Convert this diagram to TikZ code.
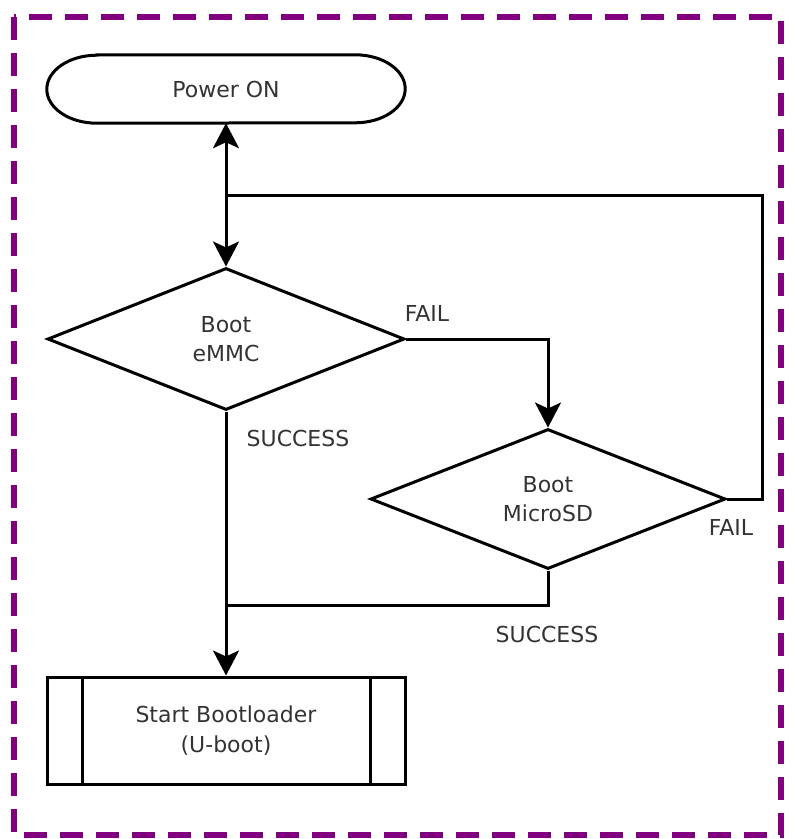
\documentclass[tikz,border=0pt]{standalone}
\usepackage{fontspec}
\setmainfont{DejaVu Sans}
\usetikzlibrary{shapes.geometric,arrows.meta}
\definecolor{frame}{HTML}{800080}
\definecolor{txt}{HTML}{333333}
\begin{document}
\begin{tikzpicture}[x=1pt,y=-1pt,
  every node/.style={font=\fontsize{22}{29.5}\selectfont, text=txt, align=center},
  line/.style={line width=3pt, draw=black},
  tip/.tip={Stealth[length=25pt,width=26pt,inset=6pt]},
  arr/.style={line, -tip},
  dec/.style={diamond, line, minimum width=357pt, minimum height=142pt, aspect=2.5, inner sep=0pt},
  lbl/.style={inner sep=0pt}]
\useasboundingbox (0,0) rectangle (795,839);
\draw[frame, line width=6pt, dash pattern=on 23pt off 13pt] (14,17) rectangle (781,835);
\node[rectangle, minimum width=358pt, minimum height=68pt, inner sep=0pt] (power) at (226,89) {Power ON};
\draw[line] ([xshift=50pt]power.north west) -- ([xshift=-50pt]power.north east)
  arc[start angle=90, end angle=-90, x radius=50pt, y radius=34pt]
  -- ([xshift=50pt]power.south west)
  arc[start angle=270, end angle=90, x radius=50pt, y radius=34pt] -- cycle;
\node[dec] (d1) at (226,339) {Boot\\eMMC};
\node[dec, minimum width=355pt, minimum height=140pt] (d2) at (548,499) {Boot\\MicroSD};
\node[line, rectangle, minimum width=358pt, minimum height=107pt, inner sep=0pt] (boot) at (226,730.5) {Start Bootloader\\(U-boot)};
\draw[line] ([xshift=37pt]boot.north west) -- ([xshift=37pt]boot.south west);
\draw[line] ([xshift=-36pt]boot.north east) -- ([xshift=-36pt]boot.south east);
\coordinate (j1) at (226,195);
\coordinate (r2) at (762,195);
\coordinate (k2) at (548,605);
\draw[line, tip-tip] (power.south) -- (d1.north);
\draw[line] (d2.east) -- (d2.east -| r2) -- (r2) -- (j1);
\draw[arr] (d1.east) -| (d2.north);
\draw[arr] (d1.south) -- (boot.north);
\draw[line] (d2.south) -- (k2) -- (k2 -| d1.south);
\node[lbl] (f1) at (427,313) {FAIL};
\node[lbl] (s1) at (298,438) {SUCCESS};
\node[lbl] (f2) at (731,527) {FAIL};
\node[lbl] (s2) at (547,634) {SUCCESS};
\end{tikzpicture}
\end{document}
